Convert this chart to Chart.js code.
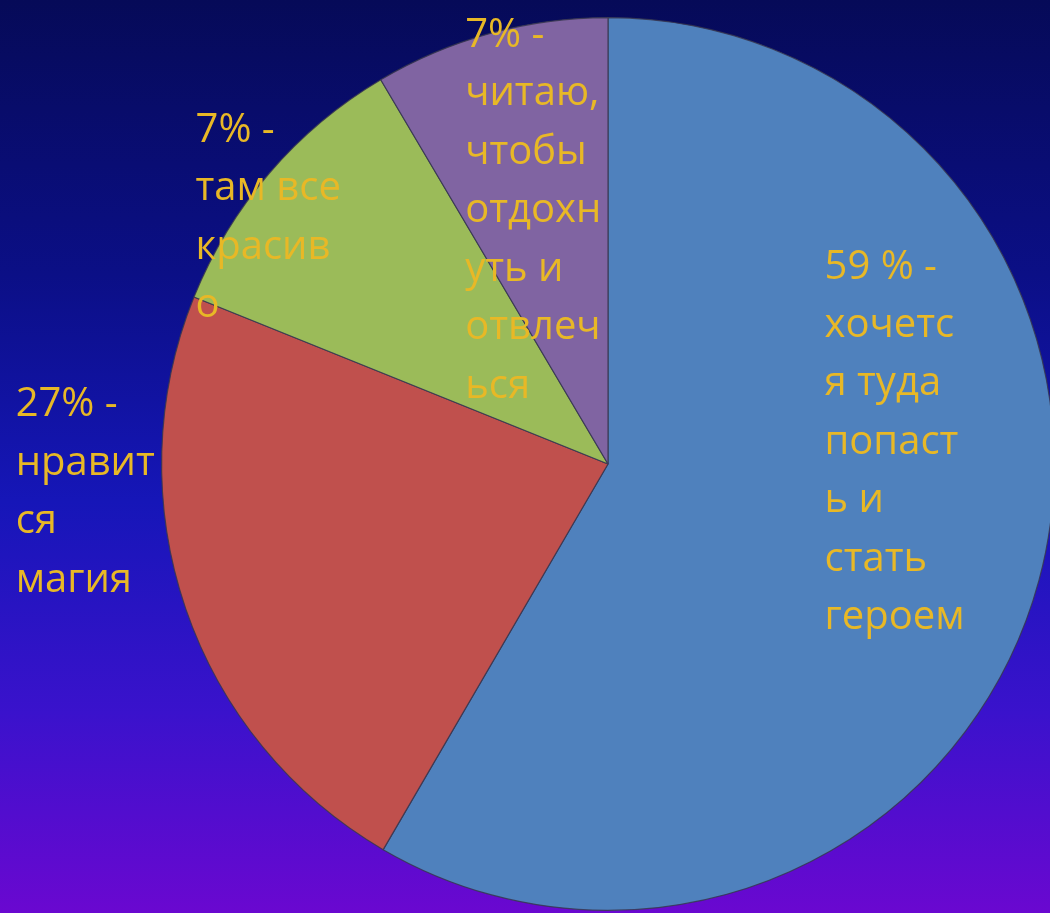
<!DOCTYPE html>
<html lang="ru">
<head>
<meta charset="utf-8">
<title>Почему нравится</title>
<script src="https://cdn.jsdelivr.net/npm/chart.js@4"></script>
<style>
  html, body {
    margin: 0;
    padding: 0;
    width: 1050px;
    height: 913px;
    overflow: hidden;
    background: linear-gradient(to bottom, #060a58 0%, #0b0f86 30%, #1616b8 55%, #3a12cc 78%, #6a08d0 100%);
  }
  #wrap {
    position: absolute;
    left: 0;
    top: 0;
    width: 1070px;
    height: 913px;
  }
</style>
</head>
<body>
<div id="wrap"><canvas id="graficoPizza"></canvas></div>
<script>
// порядок по часовой стрелке от 12 часов
const categorias = ["хочется туда попасть и стать героем", "нравится магия", "там все красиво", "читаю, чтобы отдохнуть и отвлечься"];
const valores = [58.4, 22.7, 10.4, 8.5];
const cores = ["#4f81bd", "#c0504d", "#9bbb59", "#8064a2"];
const rotulos = [
  ["59 % -", "хочетс", "я туда", "попаст", "ь и", "стать", "героем"],
  ["27% -", "нравит", "ся", "магия"],
  ["7% -", "там все", "красив", "о"],
  ["7% -", "читаю,", "чтобы", "отдохн", "уть и", "отвлеч", "ься"]
];

// onde cada rótulo começa, em frações do raio a partir do centro
const posRotulos = [
  { dx: 0.485, dy: -0.441 },
  { dx: -1.327, dy: -0.132 },
  { dx: -0.924, dy: -0.747 },
  { dx: -0.320, dy: -0.960 }
];

const pluginRotulos = {
  id: "rotulos",
  afterDatasetsDraw(chart) {
    const ctx = chart.ctx;
    const arcos = chart.getDatasetMeta(0).data;
    ctx.save();
    ctx.fillStyle = "#e8b826";
    ctx.font = "40px 'Open Sans', sans-serif";
    ctx.textAlign = "left";
    ctx.textBaseline = "middle";
    arcos.forEach((arco, i) => {
      const r = arco.outerRadius;
      const x = arco.x + posRotulos[i].dx * r;
      let y = arco.y + posRotulos[i].dy * r;
      rotulos[i].forEach(linha => {
        ctx.fillText(linha, x, y);
        y += 0.131 * r;
      });
    });
    ctx.restore();
  }
};

let grafico = null;

function criarGrafico() {
  const ctx = document.getElementById("graficoPizza");
  if (grafico) grafico.destroy();

  grafico = new Chart(ctx, {
    type: "pie",
    data: {
      labels: categorias,
      datasets: [{
        data: valores,
        backgroundColor: cores,
        borderColor: "rgba(55,55,80,0.85)",
        borderWidth: 1.2,
        hoverOffset: 0
      }]
    },
    options: {
      responsive: true,
      maintainAspectRatio: false,
      animation: false,
      events: [],
      layout: {
        padding: { left: 161, top: 17, right: 15, bottom: 2 }
      },
      plugins: {
        legend: { display: false },
        tooltip: { enabled: false }
      }
    },
    plugins: [pluginRotulos]
  });
}

document.addEventListener("DOMContentLoaded", criarGrafico);
</script>
</body>
</html>
